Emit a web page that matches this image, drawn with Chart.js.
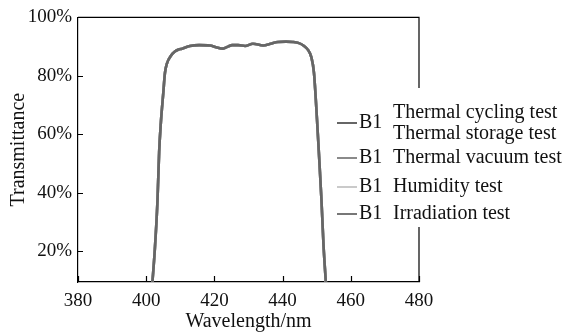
<!DOCTYPE html>
<html>
<head>
<meta charset="utf-8">
<script src="https://cdn.jsdelivr.net/npm/chart.js@4.4.1/dist/chart.umd.min.js"></script>
<style>
  html, body { margin: 0; padding: 0; background: #fff; }
  #wrap { width: 566px; height: 334px; }
</style>
</head>
<body>
<div id="wrap"><canvas id="chart" width="566" height="334"></canvas></div>
<script>
// wavelength (nm) and transmittance (%)
const wavelength = [401.8, 402.5, 403.3, 403.8, 404.3, 405.0, 405.5, 406.1, 407.2, 408.4, 409.5, 410.5,
    412.8, 415.5, 418.7, 420.5, 422.5, 424.0, 425.2, 427.0, 429.0, 431.3, 434.3, 436.5, 438.6, 441.0,
    443.0, 444.8, 446.2, 447.5, 448.4, 449.2, 450.1, 450.6, 451.4, 452.0, 452.7];
const transmittance = [9, 20, 37, 54, 64, 74, 81, 84.3, 86.8, 88.3, 89.0, 89.3,
    90.2, 90.5, 90.4, 89.8, 89.3, 90.0, 90.5, 90.5, 90.2, 91.0, 90.4, 91.0, 91.6, 91.7,
    91.6, 91.2, 90.3, 88.8, 86.5, 81, 64.8, 54.5, 37.4, 22, 9];

const sampleNames = ['B1', 'B1', 'B1', 'B1'];
const testNames = [
    ['Thermal cycling test', 'Thermal storage test'],
    ['Thermal vacuum test'],
    ['Humidity test'],
    ['Irradiation test']
];
const seriesColors = ['#666666', '#8a8a8a', '#cacaca', '#777777'];

const xTickValues = [380, 400, 420, 440, 460, 480];
const yTickValues = [20, 40, 60, 80, 100];

const FONT = '"Liberation Serif", "DejaVu Serif", serif';

// inward tick marks + closing box
const frameAndTicks = {
    id: 'frameAndTicks',
    afterDatasetsDraw(chart) {
        const { ctx, chartArea: a, scales } = chart;
        ctx.save();
        ctx.strokeStyle = '#000';
        ctx.lineWidth = 1.2;
        ctx.beginPath();
        ctx.moveTo(a.left, a.top);
        ctx.lineTo(a.right, a.top);
        ctx.lineTo(a.right, a.bottom);
        ctx.stroke();
        ctx.beginPath();
        scales.y.ticks.forEach(t => {
            const py = Math.round(scales.y.getPixelForValue(t.value)) + 0.5;
            ctx.moveTo(a.left, py);
            ctx.lineTo(a.left + 5, py);
        });
        scales.x.ticks.forEach(t => {
            const px = Math.round(scales.x.getPixelForValue(t.value)) + 0.5;
            ctx.moveTo(px, a.bottom);
            ctx.lineTo(px, a.bottom - 6);
        });
        ctx.stroke();
        ctx.restore();
    }
};

// legend drawn beside the plot, covering the right border
const sideLegend = {
    id: 'sideLegend',
    afterDraw(chart) {
        const { ctx } = chart;
        ctx.save();
        ctx.fillStyle = '#fff';
        ctx.fillRect(328, 88, 238, 139);
        const rows = [123, 158, 187, 214];
        ctx.font = '20px ' + FONT;
        ctx.textBaseline = 'middle';
        ctx.fillStyle = '#111';
        testNames.forEach((lines, i) => {
            const y = rows[i];
            ctx.strokeStyle = seriesColors[i];
            ctx.lineWidth = 2;
            ctx.beginPath();
            ctx.moveTo(337, y);
            ctx.lineTo(357, y);
            ctx.stroke();
            ctx.fillText(sampleNames[i], 359, y);
            if (lines.length === 2) {
                ctx.fillText(lines[0], 393, y - 10);
                ctx.fillText(lines[1], 393, y + 11);
            } else {
                ctx.fillText(lines[0], 393, y);
            }
        });
        ctx.restore();
    }
};

const datasets = testNames.map((n, i) => ({
    label: sampleNames[i] + ' ' + n.join(' / '),
    data: wavelength.map((w, k) => ({ x: w, y: transmittance[k] })),
    borderColor: seriesColors[i],
    borderWidth: 2.6,
    pointRadius: 0,
    cubicInterpolationMode: 'monotone',
    fill: false
}));

new Chart(document.getElementById('chart'), {
    type: 'line',
    data: { datasets },
    options: {
        responsive: false,
        animation: false,
        clip: true,
        layout: { padding: { top: 17, right: 147, left: 0, bottom: 0 } },
        plugins: { legend: { display: false }, tooltip: { enabled: false } },
        scales: {
            x: {
                type: 'linear',
                min: 380,
                max: 480,
                afterBuildTicks: s => { s.ticks = xTickValues.map(v => ({ value: v })); },
                afterFit: s => { s.height = 52; },
                grid: { display: false, drawTicks: false },
                border: { display: true, color: '#000', width: 1.2 },
                ticks: { color: '#111', padding: 8, font: { family: FONT, size: 19 } },
                title: { display: true, text: 'Wavelength/nm', color: '#111', padding: { top: 0, bottom: 0 }, font: { family: FONT, size: 20 } }
            },
            y: {
                min: 9.4,
                max: 100,
                afterBuildTicks: s => { s.ticks = yTickValues.map(v => ({ value: v })); },
                afterFit: s => { s.width = 78; },
                grid: { display: false, drawTicks: false },
                border: { display: true, color: '#000', width: 1.2 },
                ticks: { color: '#111', padding: 6, font: { family: FONT, size: 19 }, callback: v => v + '%' },
                title: { display: true, text: 'Transmittance', color: '#111', padding: { top: 7, bottom: 0 }, font: { family: FONT, size: 20 } }
            }
        }
    },
    plugins: [frameAndTicks, sideLegend]
});
</script>
</body>
</html>
